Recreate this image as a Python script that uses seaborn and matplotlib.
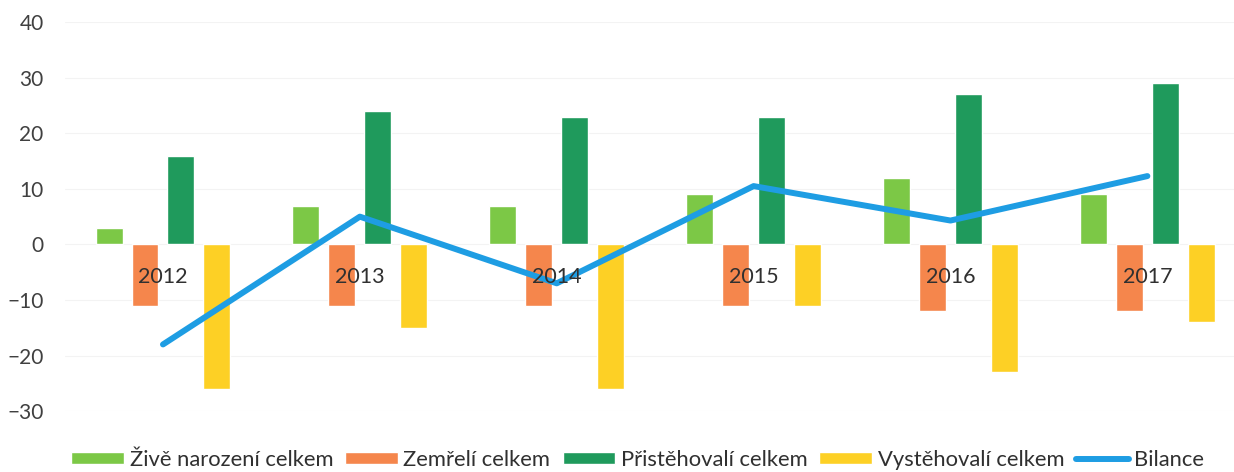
import numpy as np
import pandas as pd
import matplotlib
matplotlib.use("Agg")
import matplotlib.pyplot as plt
import seaborn as sns

# values
years = ["2012", "2013", "2014", "2015", "2016", "2017"]
zive_narozeni = [3, 7, 7, 9, 12, 9]
zemreli = [-11, -11, -11, -11, -12, -12]
pristehovali = [16, 24, 23, 23, 27, 29]
vystehovali = [-26, -15, -26, -11, -23, -14]
bilance = [-18, 5, -7, 10.5, 4.3, 12.3]

series_names = ["Živě narození celkem", "Zemřelí celkem", "Přistěhovalí celkem", "Vystěhovalí celkem"]
colors = ["#7cc846", "#f5864c", "#1f9a5c", "#fdd025"]
line_color = "#1e9de3"

df = pd.DataFrame({
    "rok": years * 4,
    "serie": np.repeat(series_names, len(years)),
    "hodnota": zive_narozeni + zemreli + pristehovali + vystehovali,
})

sns.set_theme(style="white")
plt.rcParams["font.family"] = ["Lato", "DejaVu Sans"]

fig = plt.figure(figsize=(12.34, 4.72), dpi=100)
ax = fig.add_axes([0.0523, 0.129, 0.9477, 0.824])

sns.barplot(data=df, x="rok", y="hodnota", hue="serie", hue_order=series_names,
            palette=colors, width=0.73, gap=0.25, saturation=1, ax=ax, zorder=2)

# balance line through the category centres
sns.lineplot(x=np.arange(len(years)), y=bilance, color=line_color, linewidth=4.3,
             solid_capstyle="round", label="Bilance", ax=ax, zorder=3)

ax.set_ylim(-30, 40)
ax.set_xlim(-0.5, 5.44)
ax.set_yticks(range(-30, 41, 10))
ax.grid(axis="y", color="#f3f3f3", linewidth=0.8, zorder=0)
ax.set_xlabel("")
ax.set_ylabel("")
for s in ["top", "right", "left"]:
    ax.spines[s].set_visible(False)
ax.spines["bottom"].set_position(("data", 0))
ax.spines["bottom"].set_visible(False)
ax.tick_params(axis="y", length=0, pad=15, labelsize=15, labelcolor="#404040")
ax.tick_params(axis="x", length=0, pad=16, labelsize=15.5, labelcolor="#303030")
# year labels sit on top of the bars
ax.xaxis.set_zorder(4)

handles, labels = ax.get_legend_handles_labels()
ax.get_legend().remove()
fig.legend(handles, labels, loc="center", bbox_to_anchor=(0.517, 0.025), ncol=5,
           frameon=False, fontsize=15.8, handlelength=2.4, handleheight=0.45,
           handletextpad=0.25, columnspacing=0.55, labelcolor="#303030")

fig.savefig("out.png", dpi=100)
